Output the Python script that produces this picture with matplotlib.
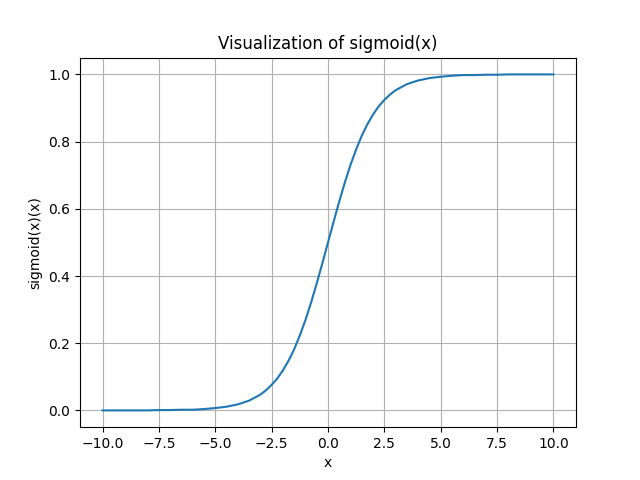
import matplotlib
matplotlib.use("Agg")
import matplotlib.pyplot as plt

x_vals = [-10, -9.5, -9, -8.5, -8, -7.5, -7, -6.5, -6, -5.5, -5, -4.5, -4, -3.5, -3,
          -2.75, -2.5, -2.25, -2, -1.75, -1.5, -1.25, -1, -0.75, -0.5, -0.25, 0,
          0.25, 0.5, 0.75, 1, 1.25, 1.5, 1.75, 2, 2.25, 2.5, 2.75, 3,
          3.5, 4, 4.5, 5, 5.5, 6, 6.5, 7, 7.5, 8, 8.5, 9, 9.5, 10]
y_vals = [0.000, 0.000, 0.000, 0.000, 0.000, 0.001, 0.001, 0.002, 0.002, 0.004, 0.007, 0.011, 0.018, 0.029, 0.047,
          0.060, 0.076, 0.095, 0.119, 0.148, 0.182, 0.223, 0.269, 0.321, 0.378, 0.438, 0.500,
          0.562, 0.622, 0.679, 0.731, 0.777, 0.818, 0.852, 0.881, 0.905, 0.924, 0.940, 0.953,
          0.971, 0.982, 0.989, 0.993, 0.996, 0.998, 0.998, 0.999, 0.999, 1.000, 1.000, 1.000, 1.000, 1.000]

fig, ax = plt.subplots(figsize=(6.4, 4.8), dpi=100)
ax.plot(x_vals, y_vals, color="#1f77b4")
ax.set_title("Visualization of sigmoid(x)")
ax.set_xlabel("x")
ax.set_ylabel("sigmoid(x)(x)")
ax.grid(True)
fig.savefig("out.png")
